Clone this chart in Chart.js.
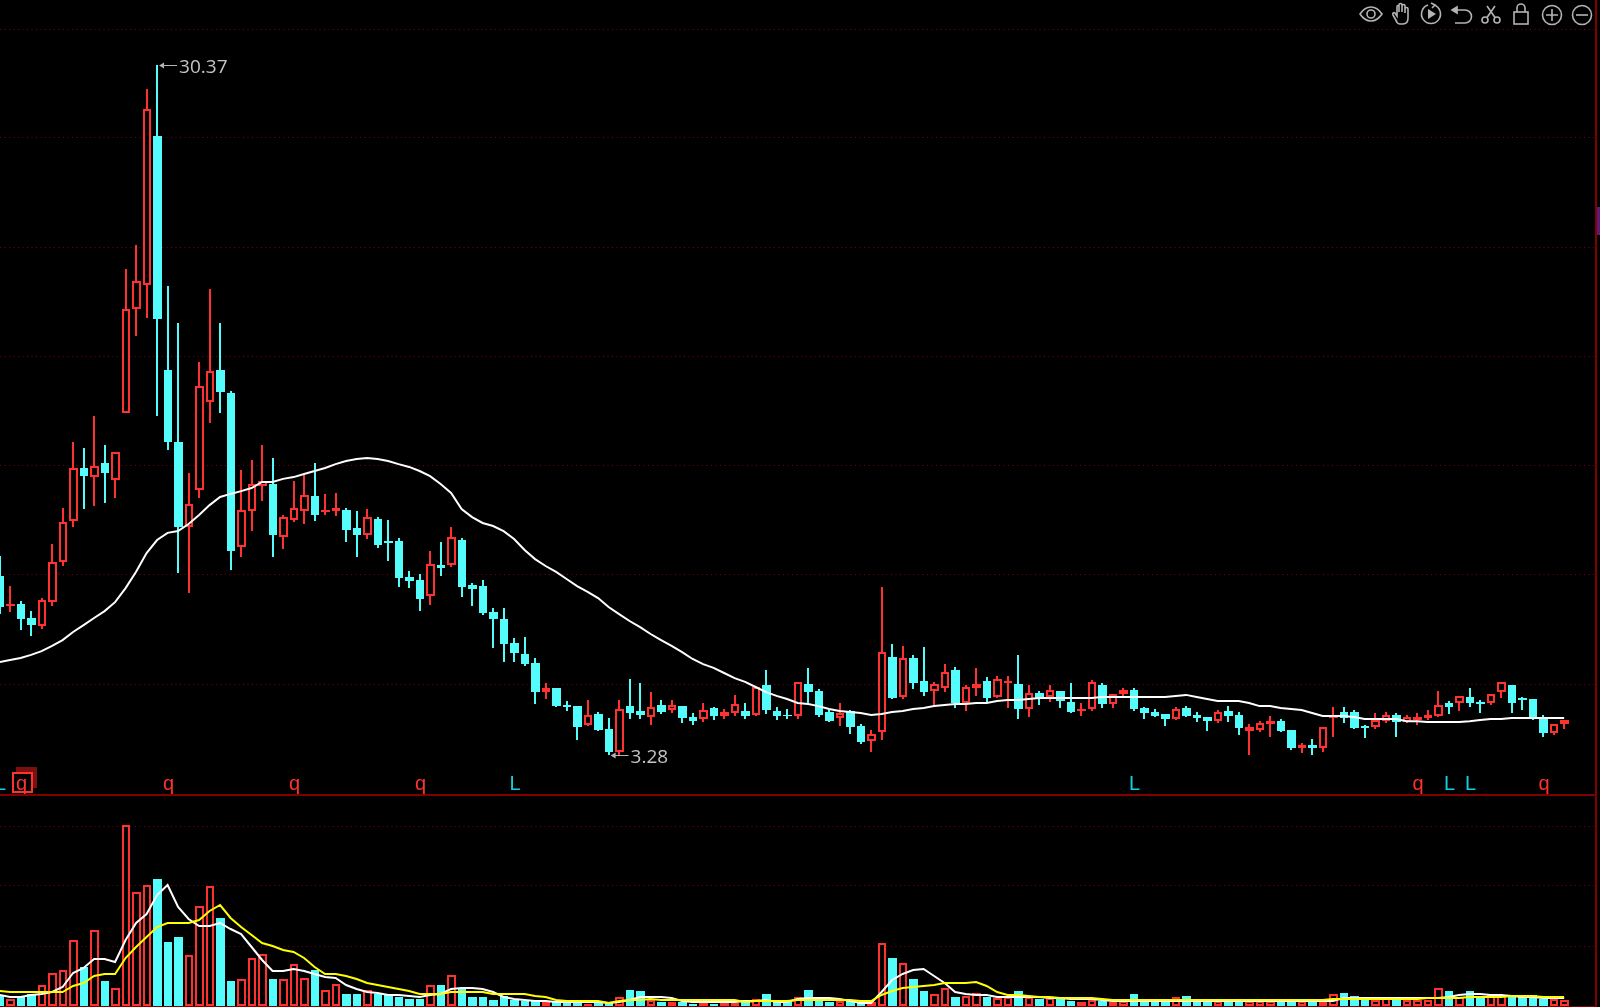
<!DOCTYPE html>
<html>
<head>
<meta charset="utf-8">
<title>K-line</title>
<script src="https://cdn.jsdelivr.net/npm/chart.js@4/dist/chart.umd.min.js"></script>
<style>
  html, body { margin: 0; background: #000; overflow: hidden; }
  #page { position: relative; width: 1600px; height: 1007px; background: #000; overflow: hidden; }
  canvas { position: absolute; left: 0; display: block; }
  #priceChart { top: 0; }
  #volumeChart { top: 795px; }
  .rule { position: absolute; background: #800000; }
  #tools svg { position: absolute; top: 2px; width: 24px; height: 24px; fill: none; stroke: #b4b4b4; stroke-width: 1.6; }
</style>
</head>
<body>
<div id="page">
  <canvas id="priceChart" width="1595" height="795"></canvas>
  <canvas id="volumeChart" width="1595" height="212"></canvas>
  <div class="rule" style="left:0;top:794px;width:1597px;height:2px"></div>
  <div class="rule" style="left:0;top:1006px;width:1597px;height:1px"></div>
  <div class="rule" style="left:1595px;top:0;width:2px;height:1007px"></div>
  <div style="position:absolute;left:1597px;top:207px;width:3px;height:28px;background:#5a1a78"></div>
  <div id="tools">
    <svg style="left:1359px" viewBox="0 0 24 24"><path d="M1 12C5 6 9 5 12 5s7 1 11 7c-4 6-8 7-11 7s-7-1-11-7z"/><circle cx="12" cy="12" r="4"/></svg>
    <svg style="left:1390px" viewBox="0 0 24 24"><path d="M7 20 3 13c-1-2 1-3 2-2l2 3V5c0-2 2-2 2 0v5-7c0-2 3-2 3 0v7-6c0-2 3-2 3 0v7-4c0-2 3-2 3 0v9c0 4-2 6-5 6h-3c-2 0-3-1-4-3z"/></svg>
    <svg style="left:1419px" viewBox="0 0 24 24"><path d="M15 3a9.5 9.5 0 1 1-6 0"/><path d="M12 1l4 2-3 3"/><path d="M9 7l8 5-8 5z" fill="#b4b4b4" stroke="none"/></svg>
    <svg style="left:1449px;top:3px" viewBox="0 0 24 24"><path d="M4 7h12a6 6 0 0 1 0 13H6"/><path d="M8 4 3 7l5 3z" fill="#b4b4b4"/></svg>
    <svg style="left:1479px" viewBox="0 0 24 24"><circle cx="6" cy="18" r="3"/><circle cx="18" cy="18" r="3"/><path d="M8 15.5 16 4M16 15.5 8 4"/></svg>
    <svg style="left:1509px" viewBox="0 0 24 24"><rect x="5" y="10" width="14" height="12"/><path d="M8 10V6a4 4 0 0 1 8 0v4"/></svg>
    <svg style="left:1540px;top:3px" viewBox="0 0 24 24"><circle cx="12" cy="12" r="9.5"/><path d="M12 6v12M6 12h12"/></svg>
    <svg style="left:1570px;top:3px" viewBox="0 0 24 24"><circle cx="12" cy="12" r="9.5"/><path d="M6 12h12"/></svg>
  </div>
</div>
<script>
const highs = [
  11.09,9.91,9.32,8.93,9.44,11.56,12.98,15.57,15.33,16.59,
  15.45,15.17,22.36,23.30,29.43,30.37,21.69,20.24,14.35,18.71,
  21.58,20.24,17.57,14.47,14.86,15.45,14.94,12.70,14.04,14.27,
  14.74,13.53,13.57,12.98,12.86,12.94,12.62,12.51,11.80,10.50,
  10.39,11.29,11.64,12.23,11.80,10.03,10.15,9.05,9.05,7.87,
  7.91,7.09,6.11,5.91,5.40,5.20,5.44,4.97,4.73,5.44,
  6.26,6.11,5.75,5.44,5.44,5.20,4.93,5.32,5.16,5.09,
  5.64,5.32,5.99,6.62,5.16,5.09,6.15,6.70,5.87,5.05,
  5.32,5.05,4.50,4.26,9.87,7.64,7.56,7.21,7.52,6.15,
  6.85,6.73,6.03,6.70,6.34,6.38,6.38,7.21,6.03,5.79,
  6.03,5.79,6.11,5.32,6.22,6.11,5.67,5.91,5.91,5.16,
  5.09,4.89,5.16,5.20,4.97,4.77,5.05,5.20,4.97,4.50,
  4.61,4.81,4.69,4.26,3.75,3.91,4.38,5.16,5.16,5.05,
  4.46,4.93,4.97,4.93,4.85,4.93,5.05,5.79,5.40,5.60,
  5.91,5.44,5.67,6.15,6.03,5.56,5.48,4.85,4.50,4.65
];
const lows = [
  8.81,8.89,8.19,7.95,8.23,9.13,10.70,12.23,12.94,13.05,
  13.17,13.37,16.71,19.73,20.44,16.59,15.25,10.43,9.64,13.37,
  16.31,16.71,10.54,11.05,12.07,13.25,11.05,11.37,12.43,12.35,
  12.47,12.70,12.66,11.64,11.05,11.76,11.41,10.90,9.87,9.83,
  8.93,9.17,10.31,10.66,9.48,9.13,8.77,7.48,6.93,6.93,
  6.77,5.28,5.48,5.16,5.01,3.87,4.42,4.22,3.28,3.28,
  4.69,4.69,4.46,4.89,4.93,4.54,4.46,4.58,4.65,4.69,
  4.81,4.69,4.81,4.89,4.65,4.69,4.69,5.28,4.77,4.58,
  4.42,4.10,3.71,3.40,3.87,5.48,5.48,5.87,5.60,5.24,
  5.75,5.13,5.01,5.60,5.36,5.52,5.13,4.69,4.77,5.24,
  5.36,5.13,4.93,4.81,5.01,5.13,5.13,5.60,5.01,4.69,
  4.77,4.42,4.65,4.77,4.58,4.22,4.54,4.58,4.07,3.28,
  4.18,3.99,4.18,3.48,3.36,3.28,3.40,3.99,4.54,4.30,
  3.95,4.30,4.54,3.99,4.54,4.46,4.65,4.77,4.89,5.01,
  5.16,4.93,5.24,5.52,4.93,5.05,4.65,3.99,4.07,4.30
];
const opens = [
  10.31,9.13,9.21,8.66,8.34,9.28,10.86,12.47,14.55,14.19,
  14.74,14.08,16.71,20.79,21.73,27.58,18.40,15.57,12.23,13.68,
  17.14,18.40,17.49,11.45,12.86,13.84,13.92,11.84,12.51,12.86,
  13.45,12.82,12.86,12.90,12.19,11.92,12.55,11.68,11.68,10.27,
  10.15,9.52,10.74,10.74,11.72,9.95,9.91,8.89,8.62,7.68,
  7.25,6.89,5.75,5.91,5.24,5.20,4.46,4.89,4.30,3.40,
  5.20,5.01,4.77,5.24,5.05,5.20,4.77,4.69,5.13,4.81,
  4.93,5.01,4.85,6.03,5.01,4.85,4.81,6.07,5.79,4.97,
  4.73,5.01,4.42,3.83,4.18,7.13,5.56,7.09,6.19,5.79,
  5.91,6.62,5.32,5.91,6.19,5.56,6.11,6.07,5.09,5.71,
  5.56,5.79,5.36,5.01,5.09,6.03,5.28,5.67,5.83,5.13,
  4.97,4.89,4.69,5.13,4.85,4.77,4.61,5.01,4.85,4.22,
  4.26,4.50,4.61,4.26,3.55,3.67,3.55,4.73,4.97,4.97,
  4.42,4.38,4.61,4.85,4.58,4.65,4.73,4.81,5.32,5.32,
  5.56,5.36,5.32,5.75,6.03,5.52,5.48,4.73,4.14,4.50
];
const closes = [
  9.09,9.21,8.62,8.38,9.36,10.86,12.43,14.55,14.23,14.63,
  14.35,15.17,20.79,21.89,28.64,20.40,15.57,12.23,13.13,17.77,
  18.36,17.53,11.29,12.90,13.92,14.04,11.92,12.62,12.98,13.49,
  12.70,12.90,12.98,12.11,11.92,12.62,11.52,11.60,10.23,10.11,
  9.40,10.78,10.62,11.84,9.87,9.79,8.85,8.62,7.64,7.28,
  6.85,5.75,5.91,5.20,5.16,4.38,4.85,4.26,3.40,5.09,
  4.93,4.85,5.16,4.97,5.24,4.73,4.61,5.05,4.81,4.97,
  5.28,4.81,5.95,5.05,4.81,4.81,6.15,5.75,4.85,4.61,
  4.93,4.38,3.79,4.10,7.32,5.52,7.09,6.11,5.75,6.07,
  6.54,5.32,5.95,6.07,5.52,6.26,6.19,5.09,5.71,5.52,
  5.83,5.40,4.97,5.09,6.15,5.28,5.67,5.83,5.09,4.93,
  4.81,4.69,5.09,4.81,4.73,4.61,4.97,4.81,4.34,4.38,
  4.54,4.61,4.22,3.55,3.67,3.55,4.38,4.85,4.73,4.34,
  4.34,4.65,4.85,4.58,4.77,4.77,4.85,5.24,5.16,5.60,
  5.32,5.28,5.67,6.15,5.32,5.44,4.73,4.14,4.50,4.65
];
const priceAverage = [
  6.93,7.01,7.09,7.21,7.36,7.56,7.79,8.11,8.38,8.66,
  8.93,9.28,9.83,10.47,11.21,11.72,12.00,12.07,12.35,12.70,
  13.09,13.41,13.53,13.64,13.76,14.00,14.00,14.12,14.19,14.31,
  14.43,14.55,14.70,14.82,14.90,14.94,14.90,14.82,14.70,14.59,
  14.43,14.23,13.92,13.57,12.94,12.62,12.39,12.27,12.07,11.76,
  11.33,10.97,10.70,10.47,10.19,9.91,9.68,9.44,9.09,8.81,
  8.54,8.30,8.03,7.79,7.56,7.32,7.05,6.85,6.70,6.50,
  6.30,6.15,5.95,5.75,5.60,5.48,5.32,5.28,5.20,5.09,
  5.01,4.97,4.93,4.85,4.89,4.97,5.01,5.09,5.13,5.20,
  5.24,5.28,5.28,5.32,5.32,5.40,5.44,5.44,5.48,5.52,
  5.52,5.52,5.52,5.52,5.52,5.56,5.56,5.56,5.56,5.56,
  5.56,5.56,5.60,5.64,5.56,5.48,5.40,5.40,5.40,5.32,
  5.20,5.20,5.13,5.09,5.05,4.93,4.81,4.81,4.81,4.77,
  4.69,4.69,4.69,4.69,4.61,4.61,4.58,4.58,4.58,4.58,
  4.61,4.65,4.69,4.69,4.73,4.73,4.73,4.73,4.73,4.73
];
const volumes = [
  11,7,9,12,21,33,36,66,39,76,
  25,18,181,114,121,127,64,69,51,100,
  120,88,25,27,48,52,27,27,42,28,
  36,16,22,12,12,16,12,12,9,7,
  7,21,21,31,18,9,9,6,10,6,
  5,5,4,5,4,3,2,3,3,9,
  16,15,6,4,4,4,2,3,2,3,
  3,6,7,12,4,4,9,16,5,4,
  5,5,3,4,63,48,43,27,15,12,
  18,9,10,13,9,8,9,15,9,7,
  8,7,5,4,6,5,4,5,12,5,
  5,5,9,10,5,5,5,5,5,5,
  5,5,5,4,5,4,4,12,13,10,
  6,6,8,7,6,6,6,18,15,9,
  15,10,11,11,11,11,11,7,7,6
];
const volumeFast = [
  11,9,9,11,12,14,19,33,38,47,
  47,44,66,83,92,111,121,99,87,80,
  80,83,77,72,59,46,35,35,37,35,
  32,29,28,21,17,14,13,11,11,10,
  9,11,12,17,18,18,17,14,9,7,
  6,5,5,4,4,4,4,4,3,4,
  6,9,9,9,8,5,4,4,4,4,
  4,5,5,6,4,4,7,8,8,8,
  7,5,3,3,14,26,32,36,37,30,
  23,14,12,11,11,9,9,9,9,9,
  8,8,7,7,7,6,5,5,5,5,
  5,5,5,5,5,5,5,5,5,5,
  5,5,5,5,5,5,5,5,8,8,
  8,8,8,8,8,8,8,8,9,11,
  12,12,11,11,10,9,9,8,8,8
];
const volumeSlow = [
  15,14,14,14,14,14,14,20,23,30,
  32,32,48,59,69,79,83,83,83,86,
  95,101,88,79,71,63,60,56,54,48,
  39,32,32,30,27,23,21,19,17,15,
  12,12,12,14,14,14,14,12,12,12,
  12,10,9,6,5,5,5,5,3,5,
  6,6,7,6,6,6,6,6,6,6,
  6,4,5,5,5,5,6,6,6,6,
  6,6,5,5,11,15,18,19,20,21,
  23,23,23,24,20,14,11,11,10,9,
  9,8,8,8,8,7,6,6,6,6,
  6,6,6,6,6,6,6,6,6,6,
  6,6,6,6,6,6,6,7,7,7,
  7,7,7,7,7,7,8,8,8,8,
  9,9,9,9,10,10,10,9,9,9
];
const priceGrid = [6.03, 10.35, 14.63, 18.94, 23.22, 27.54, 31.78];
const volumeGrid = [60, 120, 180];
const qDays = [2, 16, 28, 40, 135, 147];
const lDays = [0, 49, 108, 138, 140];
const boxedDay = 2;

const RED = "#ff3232";
const CYAN = "#54fcfc";
const GRID = "#800000";
const LABEL = "#c4c4c4";

const isUp = (i) => closes[i] > opens[i];
const xy = (list) => list.map((v, i) => ({ x: i, y: v }));

// candles come out crisp like the original: whole pixels, 8 or 9 wide
const snapBars = {
  id: "snapBars",
  beforeDatasetsDraw(chart) {
    const xScale = chart.scales.x;
    chart.data.datasets.forEach((ds, d) => {
      if (ds.type !== "bar") return;
      chart.getDatasetMeta(d).data.forEach((bar, i) => {
        const center = Math.round(xScale.getPixelForValue(i));
        const thin = ds.barThickness === 2;
        bar.x = !thin && i % 2 ? center + 0.5 : center;
        bar.width = thin ? 2 : i % 2 ? 9 : 8;
        bar.y = Math.round(bar.y);
        bar.base = Math.round(bar.base);
      });
    });
  }
};

function priceTag(chart, index, price) {
  const ctx = chart.ctx;
  const x = chart.scales.x.getPixelForValue(index) + 2;
  const y = Math.round(chart.scales.y.getPixelForValue(price));
  ctx.strokeStyle = "#b4b4b4";
  ctx.fillStyle = "#b4b4b4";
  ctx.lineWidth = 1;
  ctx.beginPath();
  ctx.moveTo(x + 2, y + 0.5);
  ctx.lineTo(x + 18, y + 0.5);
  ctx.stroke();
  ctx.beginPath();
  ctx.moveTo(x, y + 0.5);
  ctx.lineTo(x + 5, y - 2.5);
  ctx.lineTo(x + 5, y + 3.5);
  ctx.fill();
  ctx.fillStyle = LABEL;
  ctx.font = '19px "Open Sans"';
  ctx.textAlign = "left";
  ctx.textBaseline = "alphabetic";
  ctx.fillText(price.toFixed(2), x + 20, y + 8);
}

const priceMarks = {
  id: "priceMarks",
  afterDatasetsDraw(chart) {
    const ctx = chart.ctx;
    const xScale = chart.scales.x;
    const baseline = chart.chartArea.bottom - 5;
    ctx.save();

    // box on the first signal, with its dark shadow behind
    const bx = Math.round(xScale.getPixelForValue(boxedDay)) + 1;
    ctx.fillStyle = "#7a1010";
    ctx.fillRect(bx - 6, baseline - 23, 21, 21);
    ctx.fillStyle = "#000";
    ctx.fillRect(bx - 10, baseline - 18, 20, 20);
    ctx.strokeStyle = RED;
    ctx.lineWidth = 2;
    ctx.strokeRect(bx - 9, baseline - 17, 19, 19);

    ctx.font = '20px "Liberation Sans"';
    ctx.textAlign = "center";
    ctx.textBaseline = "alphabetic";
    ctx.fillStyle = RED;
    qDays.forEach((d) => ctx.fillText("q", xScale.getPixelForValue(d) + 1, baseline));
    ctx.fillStyle = "#10d0e0";
    lDays.forEach((d) => ctx.fillText("L", xScale.getPixelForValue(d) + 1, baseline));

    const top = Math.max(...highs);
    const bottom = Math.min(...lows);
    priceTag(chart, highs.indexOf(top), top);
    priceTag(chart, lows.indexOf(bottom), bottom);
    ctx.restore();
  }
};

function scales(yMin, yMax, gridValues) {
  return {
    x: {
      type: "linear",
      display: false,
      offset: false,
      min: 0.04,
      max: 151.94
    },
    y: {
      min: yMin,
      max: yMax,
      ticks: { display: false },
      border: { display: false, dash: [1, 3.5] },
      grid: { color: GRID, lineWidth: 1, drawTicks: false },
      afterBuildTicks(axis) {
        axis.ticks = gridValues.map((v) => ({ value: v }));
      }
    }
  };
}

const baseOptions = {
  responsive: false,
  animation: false,
  devicePixelRatio: 1,
  layout: { padding: 0 },
  plugins: { legend: { display: false }, tooltip: { enabled: false } }
};

new Chart(document.getElementById("priceChart"), {
  type: "bar",
  data: {
    datasets: [
      {
        type: "line",
        data: xy(priceAverage),
        borderColor: "#ffffff",
        borderWidth: 2,
        pointRadius: 0,
        tension: 0,
        order: 0
      },
      {
        type: "bar",
        data: opens.map((o, i) => ({ x: i, y: [o, closes[i]] })),
        backgroundColor: (c) => (isUp(c.dataIndex) ? "#000000" : CYAN),
        borderColor: (c) => (isUp(c.dataIndex) ? RED : CYAN),
        borderWidth: (c) => (isUp(c.dataIndex) ? 2 : 0),
        borderSkipped: false,
        inflateAmount: 0,
        barThickness: 8,
        grouped: false,
        order: 1
      },
      {
        type: "bar",
        data: lows.map((l, i) => ({ x: i, y: [l, highs[i]] })),
        backgroundColor: (c) => (isUp(c.dataIndex) ? RED : CYAN),
        borderWidth: 0,
        inflateAmount: 0,
        barThickness: 2,
        grouped: false,
        order: 2
      }
    ]
  },
  options: { ...baseOptions, scales: scales(1.71, 32.92, priceGrid) },
  plugins: [snapBars, priceMarks]
});

new Chart(document.getElementById("volumeChart"), {
  type: "bar",
  data: {
    datasets: [
      {
        type: "line",
        data: xy(volumeSlow),
        borderColor: "#ffff00",
        borderWidth: 2,
        pointRadius: 0,
        tension: 0,
        order: 0
      },
      {
        type: "line",
        data: xy(volumeFast),
        borderColor: "#ffffff",
        borderWidth: 2,
        pointRadius: 0,
        tension: 0,
        order: 1
      },
      {
        type: "bar",
        data: xy(volumes),
        backgroundColor: (c) => (isUp(c.dataIndex) ? "#000000" : CYAN),
        borderColor: (c) => (isUp(c.dataIndex) ? RED : CYAN),
        borderWidth: (c) => (isUp(c.dataIndex) ? 2 : 0),
        borderSkipped: false,
        inflateAmount: 0,
        barThickness: 8,
        grouped: false,
        order: 2
      }
    ]
  },
  options: { ...baseOptions, scales: scales(-1, 211, volumeGrid) },
  plugins: [snapBars]
});
</script>
</body>
</html>
